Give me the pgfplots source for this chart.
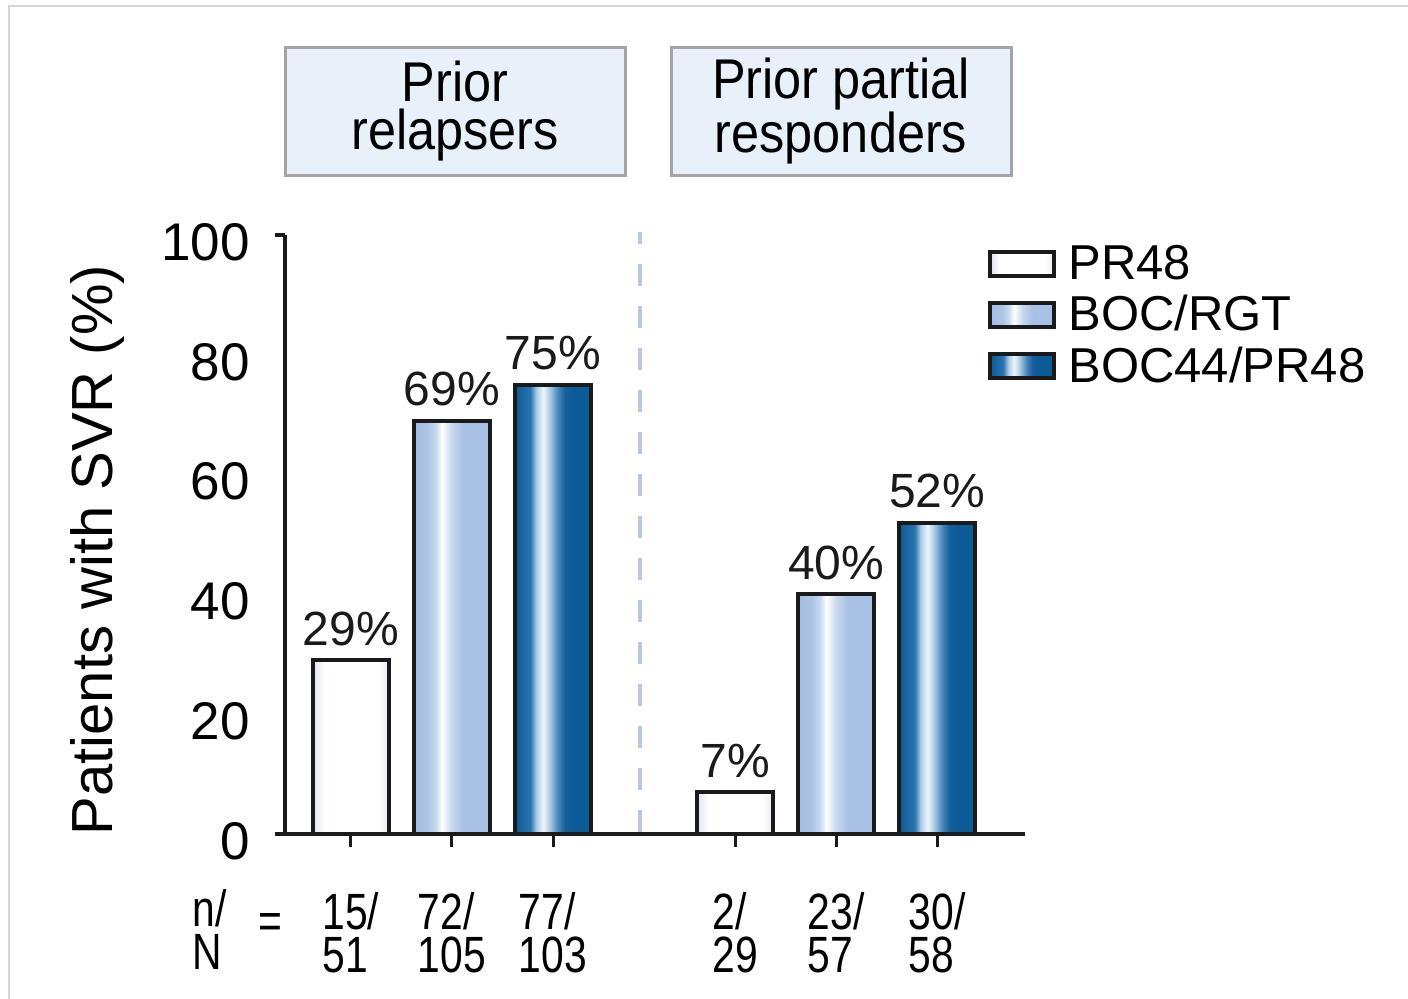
\documentclass[border=0pt]{standalone}
\usepackage{fontspec}
\setmainfont{Liberation Sans}
\newfontfamily\condA{Liberation Sans}[FakeStretch=0.9]
\newfontfamily\condB{Liberation Sans}[FakeStretch=0.8]
\usepackage{pgfplots}
\pgfplotsset{compat=1.18}

\definecolor{axcol}{HTML}{1A1A1A}
\definecolor{boxfill}{HTML}{E8F1F9}
\definecolor{boxborder}{HTML}{A4A4A4}
\definecolor{framecol}{HTML}{D6D6D6}
\definecolor{dashcol}{HTML}{B8C8DE}
\definecolor{prA}{HTML}{DCE3F3}
\definecolor{prB}{HTML}{EAEEF8}
\definecolor{lbA}{HTML}{A4BCE2}
\definecolor{lbA2}{HTML}{ACC4E6}
\definecolor{lbB}{HTML}{C8DAF0}
\definecolor{lbC}{HTML}{C8D8EE}
\definecolor{lbD}{HTML}{A8C0E4}
\definecolor{dbA}{HTML}{0C5A96}
\definecolor{dbB}{HTML}{2A74B0}
\definecolor{dbC}{HTML}{A8CCE8}
\definecolor{dbD}{HTML}{EEF6FC}
\definecolor{dbE}{HTML}{A8C8E4}
\definecolor{dbF}{HTML}{4A88BC}
\definecolor{dbG}{HTML}{155F9C}

% bar spans 25bp..75bp of the shading
\pgfdeclarehorizontalshading{shPR}{100bp}{color(0bp)=(prA); color(25bp)=(prA); color(32.5bp)=(white); color(67.5bp)=(white); color(75bp)=(prB); color(100bp)=(prB)}
\pgfdeclarehorizontalshading{shLB}{100bp}{color(0bp)=(lbA); color(25bp)=(lbA); color(34bp)=(lbA2); color(39.5bp)=(lbB); color(43.5bp)=(white); color(50bp)=(lbC); color(58bp)=(lbD); color(75bp)=(lbD); color(100bp)=(lbD)}
\pgfdeclarehorizontalshading{shDB}{100bp}{color(0bp)=(dbA); color(25bp)=(dbA); color(35bp)=(dbB); color(39bp)=(dbC); color(43.5bp)=(dbD); color(48bp)=(dbE); color(53bp)=(dbF); color(58bp)=(dbG); color(64bp)=(dbA); color(100bp)=(dbA)}

\begin{document}
\begin{tikzpicture}
\path[use as bounding box] (0,0) rectangle (704pt,499.5pt);
\begin{scope}[shift={(0pt,499.5pt)}, x=0.5pt, y=-0.5pt]
  % frame
  \draw[framecol, line width=1.2pt] (9,999) -- (9,6) -- (1408,6);
  % header boxes
  \draw[draw=boxborder, line width=1.5pt, fill=boxfill] (285,48) rectangle (625,176);
  \draw[draw=boxborder, line width=1.5pt, fill=boxfill] (671,48) rectangle (1011,176);
  \node[font=\condA\fontsize{28}{24}\selectfont, align=center, inner sep=0pt] at (455,111) {Prior\\relapsers};
  \node[font=\condA\fontsize{28}{24}\selectfont, align=center, inner sep=0pt] at (841,111) {Prior partial\\responders};
  % n/N label
  \node[anchor=north west, align=left, font=\condB\fontsize{25.5}{21.5}\selectfont, inner sep=0pt] at (192,889) {n/\\N};
  \node[font=\condB\fontsize{25.5}{21.5}\selectfont, inner sep=0pt] at (270,926) {=};
\end{scope}

\begin{axis}[
  at={(142.5pt,82.5pt)}, anchor=south west,
  scale only axis, width=370pt, height=299.5pt,
  xmin=0.35, xmax=7.667, ymin=0, ymax=100,
  axis x line*=bottom, axis y line*=left,
  axis line style={line width=2pt, color=axcol, -},
  ybar, bar width=0.75, bar shift=0pt,
  clip=false,
  xtick={1,2,3,4.8,5.8,6.8},
  xticklabels={{15/\\51},{72/\\105},{77/\\103},{2/\\29},{23/\\57},{30/\\58}},
  x tick label style={font=\condB\fontsize{25.5}{21.5}\selectfont, align=left, anchor=north, yshift=-19pt},
  xtick style={line width=1.5pt, color=axcol},
  major tick length=6.5pt, tick align=outside,
  ytick={0,20,40,60,80,100},
  ytick style={draw=none},
  y tick label style={font=\fontsize{26.5}{28}\selectfont, xshift=-7.5pt, yshift=-3.5pt},
  extra y ticks={0,100}, extra y tick labels={,},
  extra y tick style={major tick length=5pt, ytick style={draw=axcol, line width=2pt}},
  /pgf/number format/assume math mode=true,
  ylabel={Patients with SVR (\%)},
  ylabel style={font=\fontsize{29}{30}\selectfont, at={(axis description cs:-0.254,0.474)}, anchor=center},
  nodes near coords={\pgfmathprintnumber{\pgfplotspointmeta}\%},
  nodes near coords style={font=\fontsize{24}{26}\selectfont, color=axcol, yshift=3pt},
  legend style={at={(rel axis cs:0.95,0.987)}, anchor=north west, draw=none, fill=none,
    inner sep=0pt, row sep=4.5pt, column sep=5pt,
    font=\fontsize{24.5}{26}\selectfont, nodes={inner sep=1pt}, cells={anchor=west}},
  legend image code/.code={\draw[#1] (0pt,-6pt) rectangle (32pt,6pt);},
]
\draw[color=dashcol, line width=2pt, dash pattern=on 11pt off 10pt, dash phase=5pt] (axis cs:3.86,100.5) -- (axis cs:3.86,0);
% Prior relapsers
\addplot[draw=axcol, line width=2pt, shading=shPR] coordinates {(1,29)};
\addplot[draw=axcol, line width=2pt, shading=shLB] coordinates {(2,69)};
\addplot[draw=axcol, line width=2pt, shading=shDB] coordinates {(3,75)};
% Prior partial responders
\addplot[draw=axcol, line width=2pt, shading=shPR, forget plot] coordinates {(4.8,7)};
\addplot[draw=axcol, line width=2pt, shading=shLB, forget plot] coordinates {(5.8,40)};
\addplot[draw=axcol, line width=2pt, shading=shDB, forget plot] coordinates {(6.8,52)};
\legend{PR48, BOC/RGT, BOC44/PR48}
\end{axis}
\end{tikzpicture}
\end{document}
